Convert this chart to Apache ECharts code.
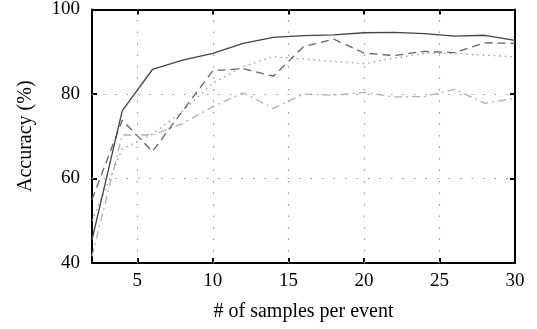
<!DOCTYPE html>
<html>
<head>
	<meta charset="utf-8">
	<title>Accuracy vs samples</title>
	<script type="text/javascript" src="https://cdn.jsdelivr.net/npm/echarts@6/dist/echarts.min.js"></script>
	<style>
		body { margin: 0; background: #fff; }
	</style>
</head>
<body>
	<div style="height: 329px; width: 537px" id="acc"></div>

	<script type="text/javascript">
		// data
		var samples = [2, 4, 6, 8, 10, 12, 14, 16, 18, 20, 22, 24, 26, 28, 30]
		var solidLine = [45.5, 76, 85.8, 88, 89.6, 92, 93.4, 93.8, 94, 94.5, 94.6, 94.3, 93.7, 93.9, 92.7]
		var dashedLine = [55, 73.8, 66.4, 76, 85.5, 86, 84.2, 91.2, 93, 89.7, 89.1, 90.1, 89.8, 92.1, 92]
		var dottedLine = [50, 67, 70.5, 76, 82.5, 86.5, 88.8, 88.3, 87.7, 87.2, 88.5, 89.6, 89.6, 89.2, 88.8]
		var dashDotLine = [41.6, 70.3, 70.3, 73, 77, 80.3, 76.6, 80, 79.7, 80.4, 79.3, 79.4, 81.1, 77.8, 79]

		var xTicks = [5, 10, 15, 20, 25, 30]
		var xGrid = [5, 10, 15, 20, 25]
		var yGrid = [60, 80]

		function pairs(ys){
			var lst = []
			for (var i = 0; i < samples.length; i++){
				lst.push([samples[i], ys[i]])
			}
			return lst
		}

		function gridLines(){
			var lst = []
			for (var i in xGrid){ lst.push({xAxis: xGrid[i]}) }
			for (var j in yGrid){ lst.push({yAxis: yGrid[j]}) }
			return lst
		}

		var font = 'Liberation Serif'
		var axisLine = { lineStyle: { color: '#000', width: 2 } }
		var tick = { inside: true, length: 5, lineStyle: { color: '#000', width: 2 } }

		var chart = echarts.init(document.getElementById('acc'));
		var option = {
			animation: false,
			grid: { left: 92, right: 22, top: 9, bottom: 66 },
			xAxis: [
				{
					type: 'value', min: 2, max: 30, position: 'bottom',
					name: '# of samples per event', nameLocation: 'middle', nameGap: 39,
					nameTextStyle: { fontFamily: font, fontSize: 20, color: '#000' },
					axisLine: axisLine,
					axisTick: Object.assign({ customValues: xTicks }, tick),
					axisLabel: { customValues: xTicks, fontFamily: font, fontSize: 19, color: '#000', margin: 9 },
					splitLine: { show: false }
				},
				{
					type: 'value', min: 2, max: 30, position: 'top',
					axisLine: axisLine,
					axisTick: Object.assign({ customValues: xTicks }, tick),
					axisLabel: { show: false },
					splitLine: { show: false }
				}
			],
			yAxis: [
				{
					type: 'value', min: 40, max: 100, interval: 20, position: 'left',
					name: 'Accuracy (%)', nameLocation: 'middle', nameGap: 56,
					nameTextStyle: { fontFamily: font, fontSize: 20, color: '#000' },
					axisLine: axisLine,
					axisTick: tick,
					axisLabel: { fontFamily: font, fontSize: 19, color: '#000', margin: 12 },
					splitLine: { show: false }
				},
				{
					type: 'value', min: 40, max: 100, interval: 20, position: 'right',
					axisLine: axisLine,
					axisTick: tick,
					axisLabel: { show: false },
					splitLine: { show: false }
				}
			],
			series: [
				{
					name: 'grid', type: 'line', data: [], z: 1, silent: true,
					markLine: {
						silent: true, symbol: 'none', animation: false,
						label: { show: false },
						lineStyle: { color: '#999', width: 1.2, type: [1.5, 10] },
						data: gridLines()
					}
				},
				{
					name: 'solid', type: 'line', data: pairs(solidLine), showSymbol: false, z: 5,
					lineStyle: { color: '#444', width: 1.3, type: 'solid' }
				},
				{
					name: 'dashed', type: 'line', data: pairs(dashedLine), showSymbol: false, z: 4,
					lineStyle: { color: '#666', width: 1.3, type: [8, 5] }
				},
				{
					name: 'dotted', type: 'line', data: pairs(dottedLine), showSymbol: false, z: 3,
					lineStyle: { color: '#999', width: 1.3, type: [1.5, 4] }
				},
				{
					name: 'dashdot', type: 'line', data: pairs(dashDotLine), showSymbol: false, z: 2,
					lineStyle: { color: '#b0b0b0', width: 1.3, type: [8, 4, 2, 4] }
				}
			]
		};
		chart.setOption(option);
	</script>
</body>
</html>
